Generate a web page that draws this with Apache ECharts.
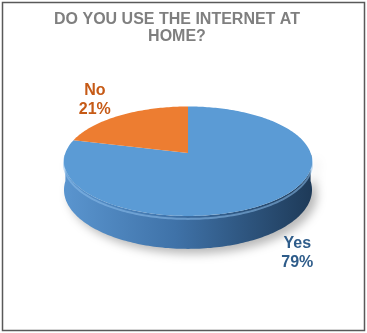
<!DOCTYPE html>
<html>
<head>
<meta charset="utf-8">
<script src="https://cdn.jsdelivr.net/npm/echarts@6/dist/echarts.min.js"></script>
<style>
  html, body { margin: 0; padding: 0; background: #ffffff; }
  #chart { width: 367px; height: 333px; }
</style>
</head>
<body>
<div id="chart"></div>
<script>
// Survey answers and their shares (percent)
const categories = ['Yes', 'No'];
const shares = [79, 21];

// Look of each slice
const topColors = ['#5B9BD5', '#ED7D31'];
const labelColors = ['#2E5C8A', '#C65A16'];
const labelOffsets = [[24, 20], [-26, -15]];

// Tilted pie geometry (pixels)
const geo = { cx: 188, cy: 153, rx: 122.6, ry: 53.5, k: 0.15, depth: 28 };

const total = shares.reduce((a, b) => a + b, 0);

// angle measured clockwise from 12 o'clock, in radians
function project(phi, drop) {
  const u = Math.sin(phi);
  const v = -Math.cos(phi);
  const w = 1 - geo.k * v;
  return [geo.cx + geo.rx * u / w, geo.cy + (geo.ry * v + (drop || 0)) / w];
}

function sliceRange(i) {
  let start = 0;
  for (let j = 0; j < i; j++) start += shares[j];
  return [start / total * Math.PI * 2, (start + shares[i]) / total * Math.PI * 2];
}

function arcPoints(a, b, drop) {
  const pts = [];
  const n = Math.max(2, Math.ceil((b - a) / 0.02));
  for (let s = 0; s <= n; s++) pts.push(project(a + (b - a) * s / n, drop));
  return pts;
}

// side wall: only the half turned toward the viewer
function renderSide(params) {
  const i = params.dataIndex;
  let [a, b] = sliceRange(i);
  a = Math.max(a, Math.PI / 2);
  b = Math.min(b, Math.PI * 1.5);
  if (b <= a) return { type: 'group', children: [] };
  const top = arcPoints(a, b, 0);
  const bottom = arcPoints(a, b, geo.depth).reverse();
  const dark = i === 0
    ? [['#5A95CF', 0], ['#3F72A8', 0.45], ['#1E3A58', 1]]
    : [['#E07A30', 0], ['#8A4515', 1]];
  return {
    type: 'group',
    children: [
      {
        type: 'polygon',
        shape: { points: top.concat(bottom) },
        style: {
          fill: new echarts.graphic.LinearGradient(0, 0, 1, 0,
            dark.map(d => ({ offset: d[1], color: d[0] }))),
          shadowBlur: 10,
          shadowColor: 'rgba(0,0,0,0.28)',
          shadowOffsetX: 5,
          shadowOffsetY: 5
        }
      },
      {
        type: 'polyline',
        shape: { points: arcPoints(a, b, 2.5) },
        style: { stroke: 'rgba(140,190,235,0.55)', lineWidth: 2, fill: null }
      }
    ]
  };
}

function renderTop(params) {
  const i = params.dataIndex;
  const [a, b] = sliceRange(i);
  const pts = [[geo.cx, geo.cy]].concat(arcPoints(a, b, 0));
  const mid = (a + b) / 2;
  const anchor = project(mid, Math.cos(mid) < 0 ? geo.depth : 0);
  return {
    type: 'group',
    children: [
      {
        type: 'polygon',
        shape: { points: pts },
        style: { fill: topColors[i] }
      },
      {
        type: 'text',
        x: anchor[0] + labelOffsets[i][0],
        y: anchor[1] + labelOffsets[i][1],
        style: {
          text: categories[i] + '\n' + shares[i] + '%',
          fill: labelColors[i],
          font: 'bold 16px "Liberation Sans", Arial, sans-serif',
          lineHeight: 19,
          align: 'center',
          verticalAlign: 'middle'
        }
      }
    ]
  };
}

const data = categories.map((c, i) => ({ name: c, value: shares[i] }));

const chart = echarts.init(document.getElementById('chart'), null, { renderer: 'canvas' });
chart.setOption({
  animation: false,
  backgroundColor: '#ffffff',
  graphic: [
    {
      type: 'rect',
      shape: { x: 2.5, y: 2.5, width: 362, height: 328 },
      style: { fill: null, stroke: '#595959', lineWidth: 1.5 },
      z: 100
    },
    {
      type: 'text',
      x: 177,
      y: 28,
      style: {
        text: 'DO YOU USE THE INTERNET AT\nHOME?',
        fill: '#7F7F7F',
        font: 'bold 16px "Liberation Sans", Arial, sans-serif',
        lineHeight: 17,
        align: 'center',
        verticalAlign: 'middle'
      }
    }
  ],
  series: [
    { type: 'custom', coordinateSystem: 'none', renderItem: renderSide, data: data, z: 1 },
    { type: 'custom', coordinateSystem: 'none', renderItem: renderTop, data: data, z: 2 }
  ]
});
</script>
</body>
</html>
